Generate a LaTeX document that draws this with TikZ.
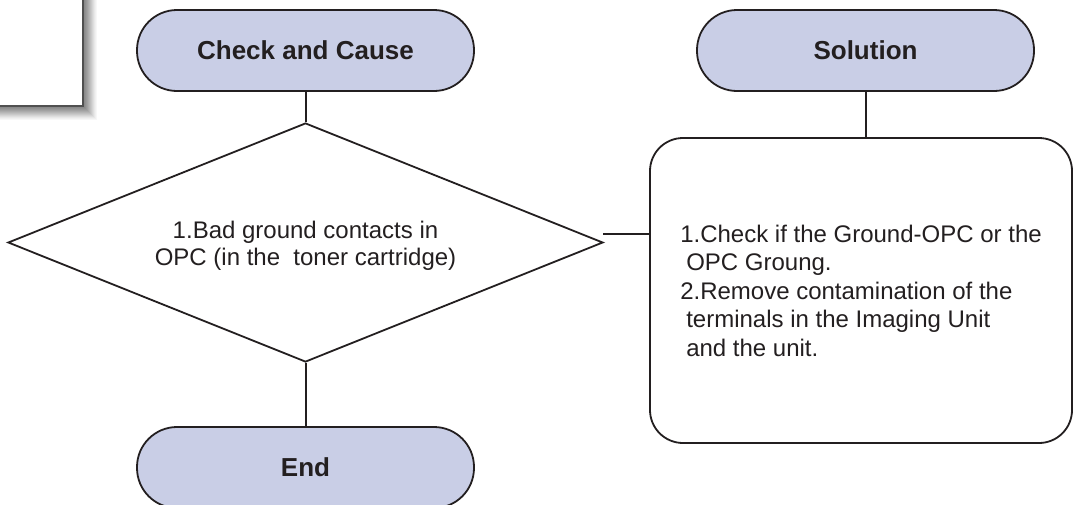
\documentclass[tikz,border=0pt]{standalone}
\usepackage{fontspec}
\setmainfont{Liberation Sans}
\usetikzlibrary{shapes.geometric}
\definecolor{ink}{HTML}{231F20}
\definecolor{lav}{RGB}{201,206,230}
\definecolor{framecol}{HTML}{505050}
\begin{document}
\begin{tikzpicture}[x=1pt,y=-1pt,
  term/.style={draw=ink, line width=1.8pt, fill=lav, rounded corners=40pt,
    minimum width=337pt, minimum height=81pt, inner sep=0pt,
    font=\fontsize{26}{30}\selectfont\bfseries, text=ink},
  dec/.style={draw=ink, line width=1.8pt, diamond, aspect=2.49,
    minimum width=595pt, minimum height=239pt, inner sep=0pt, align=center,
    font=\fontsize{24}{27}\selectfont, text=ink},
  solbox/.style={draw=ink, line width=1.8pt, rounded corners=33pt,
    minimum width=422pt, minimum height=305pt, inner sep=0pt, align=left,
    font=\fontsize{24}{28.5}\selectfont, text=ink},
  panel/.style={draw=framecol, line width=1.8pt, fill=white,
    minimum width=110pt, minimum height=130pt, inner sep=0pt},
  link/.style={draw=ink, line width=2pt}]
\useasboundingbox (0,0) rectangle (1073,504);
\clip (0,0) rectangle (1073,504);
% soft shadow of the top-left panel
\foreach \i/\p in {13/3,12/6,11/9,10/13,9/17,8/21,7/25,6/29,5/33,4/37,3/40,2/43,1/46}{
  \fill[black!\p] (-20,-20) rectangle (84+\i,107+\i);
}
\node[panel, anchor=south east] (panel) at (84,107) {};
% terminals
\node[term] (cc)  at (305.5,50.5)  {Check and Cause};
\node[term] (sol) at (865.5,50.5)  {Solution};
\node[term] (end) at (305.5,467.5) {End};
% decision
\node[dec] (dia) at (305.5,242.5) {\rule{0pt}{24pt}1.Bad ground contacts in\\OPC (in the\ \ toner cartridge)};
% solution box
\node[solbox] (box) at (861,290.5) {1.Check if the Ground-OPC or the\\
\hspace*{6pt}OPC Groung.\\
2.Remove contamination of the\\
\hspace*{6pt}terminals in the Imaging Unit\\
\hspace*{6pt}and the unit.};
% connectors
\draw[link] (cc.south) -- (dia.north);
\draw[link] (dia.south) -- (end.north);
\draw[link] (sol.south) -- (sol.south |- box.north);
\coordinate (dtip) at (603,234);
\draw[link] (dtip) -- (dtip -| box.west);
\end{tikzpicture}
\end{document}
